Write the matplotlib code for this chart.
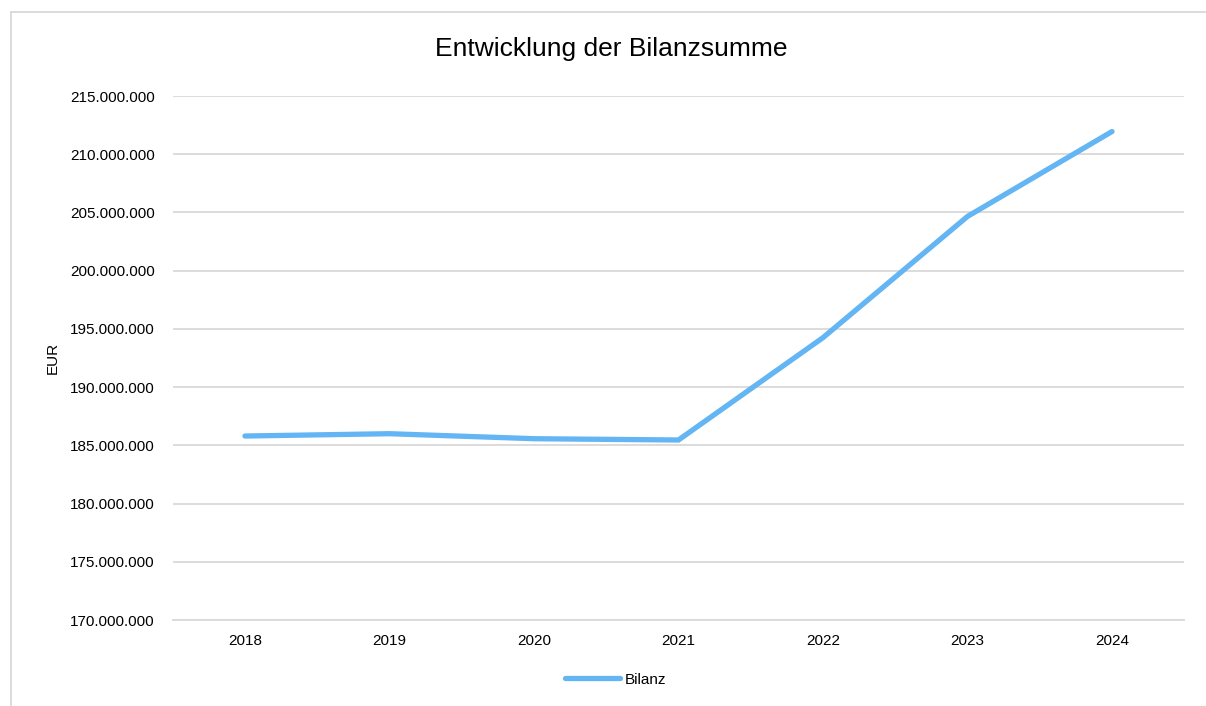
import matplotlib
matplotlib.use("Agg")
import matplotlib.pyplot as plt
from matplotlib.ticker import FuncFormatter
from matplotlib.lines import Line2D

plt.rcParams['font.family'] = ['Liberation Sans', 'DejaVu Sans']

years = ["2018", "2019", "2020", "2021", "2022", "2023", "2024"]
bilanz = [185800000, 186000000, 185570000, 185460000, 194250000, 204660000, 211950000]

fig = plt.figure(figsize=(12.06, 7.06), dpi=100)
ax = fig.add_axes([0.1432, 0.1218, 0.8388, 0.7422])

# outer chart border (only top and left are visible in the picture)
border_y = 1 - 11.5 / 706
border_x = 10.5 / 1206
fig.add_artist(Line2D([border_x, 1], [border_y, border_y], transform=fig.transFigure,
                      color="#d9d9d9", linewidth=1.3))
fig.add_artist(Line2D([border_x, border_x], [0, border_y], transform=fig.transFigure,
                      color="#d9d9d9", linewidth=1.3))

x = range(len(years))
ax.plot(x, bilanz, color="#63b5f3", linewidth=3.8, solid_joinstyle="miter",
        solid_capstyle="round", label="Bilanz")

ax.set_xlim(-0.5, len(years) - 0.5)
ax.set_ylim(170000000, 215000000)
ax.set_yticks(range(170000000, 215000001, 5000000))
ax.yaxis.set_major_formatter(FuncFormatter(lambda v, p: f"{int(v):,}".replace(",", ".")))
ax.set_xticks(list(x), years)

ax.grid(axis="y", color="#d9d9d9", linewidth=1.3)
ax.set_axisbelow(True)
for s in ("top", "right", "left"):
    ax.spines[s].set_visible(False)
ax.spines["bottom"].set_color("#d9d9d9")
ax.spines["bottom"].set_linewidth(1.3)
ax.tick_params(axis="both", length=0, labelsize=11, colors="#000000")
ax.tick_params(axis="y", pad=13)
ax.tick_params(axis="x", pad=10)

ax.set_ylabel("EUR", fontsize=11)
ax.yaxis.set_label_coords(-0.112, 0.5)

fig.text(0.507, 0.931, "Entwicklung der Bilanzsumme", ha="center", va="center", fontsize=19)

ax.legend(loc="center", bbox_to_anchor=(0.438, -0.114), frameon=False,
          fontsize=11, handlelength=3.6, handletextpad=0.3)

fig.savefig("out.png", dpi=100, facecolor="white")
